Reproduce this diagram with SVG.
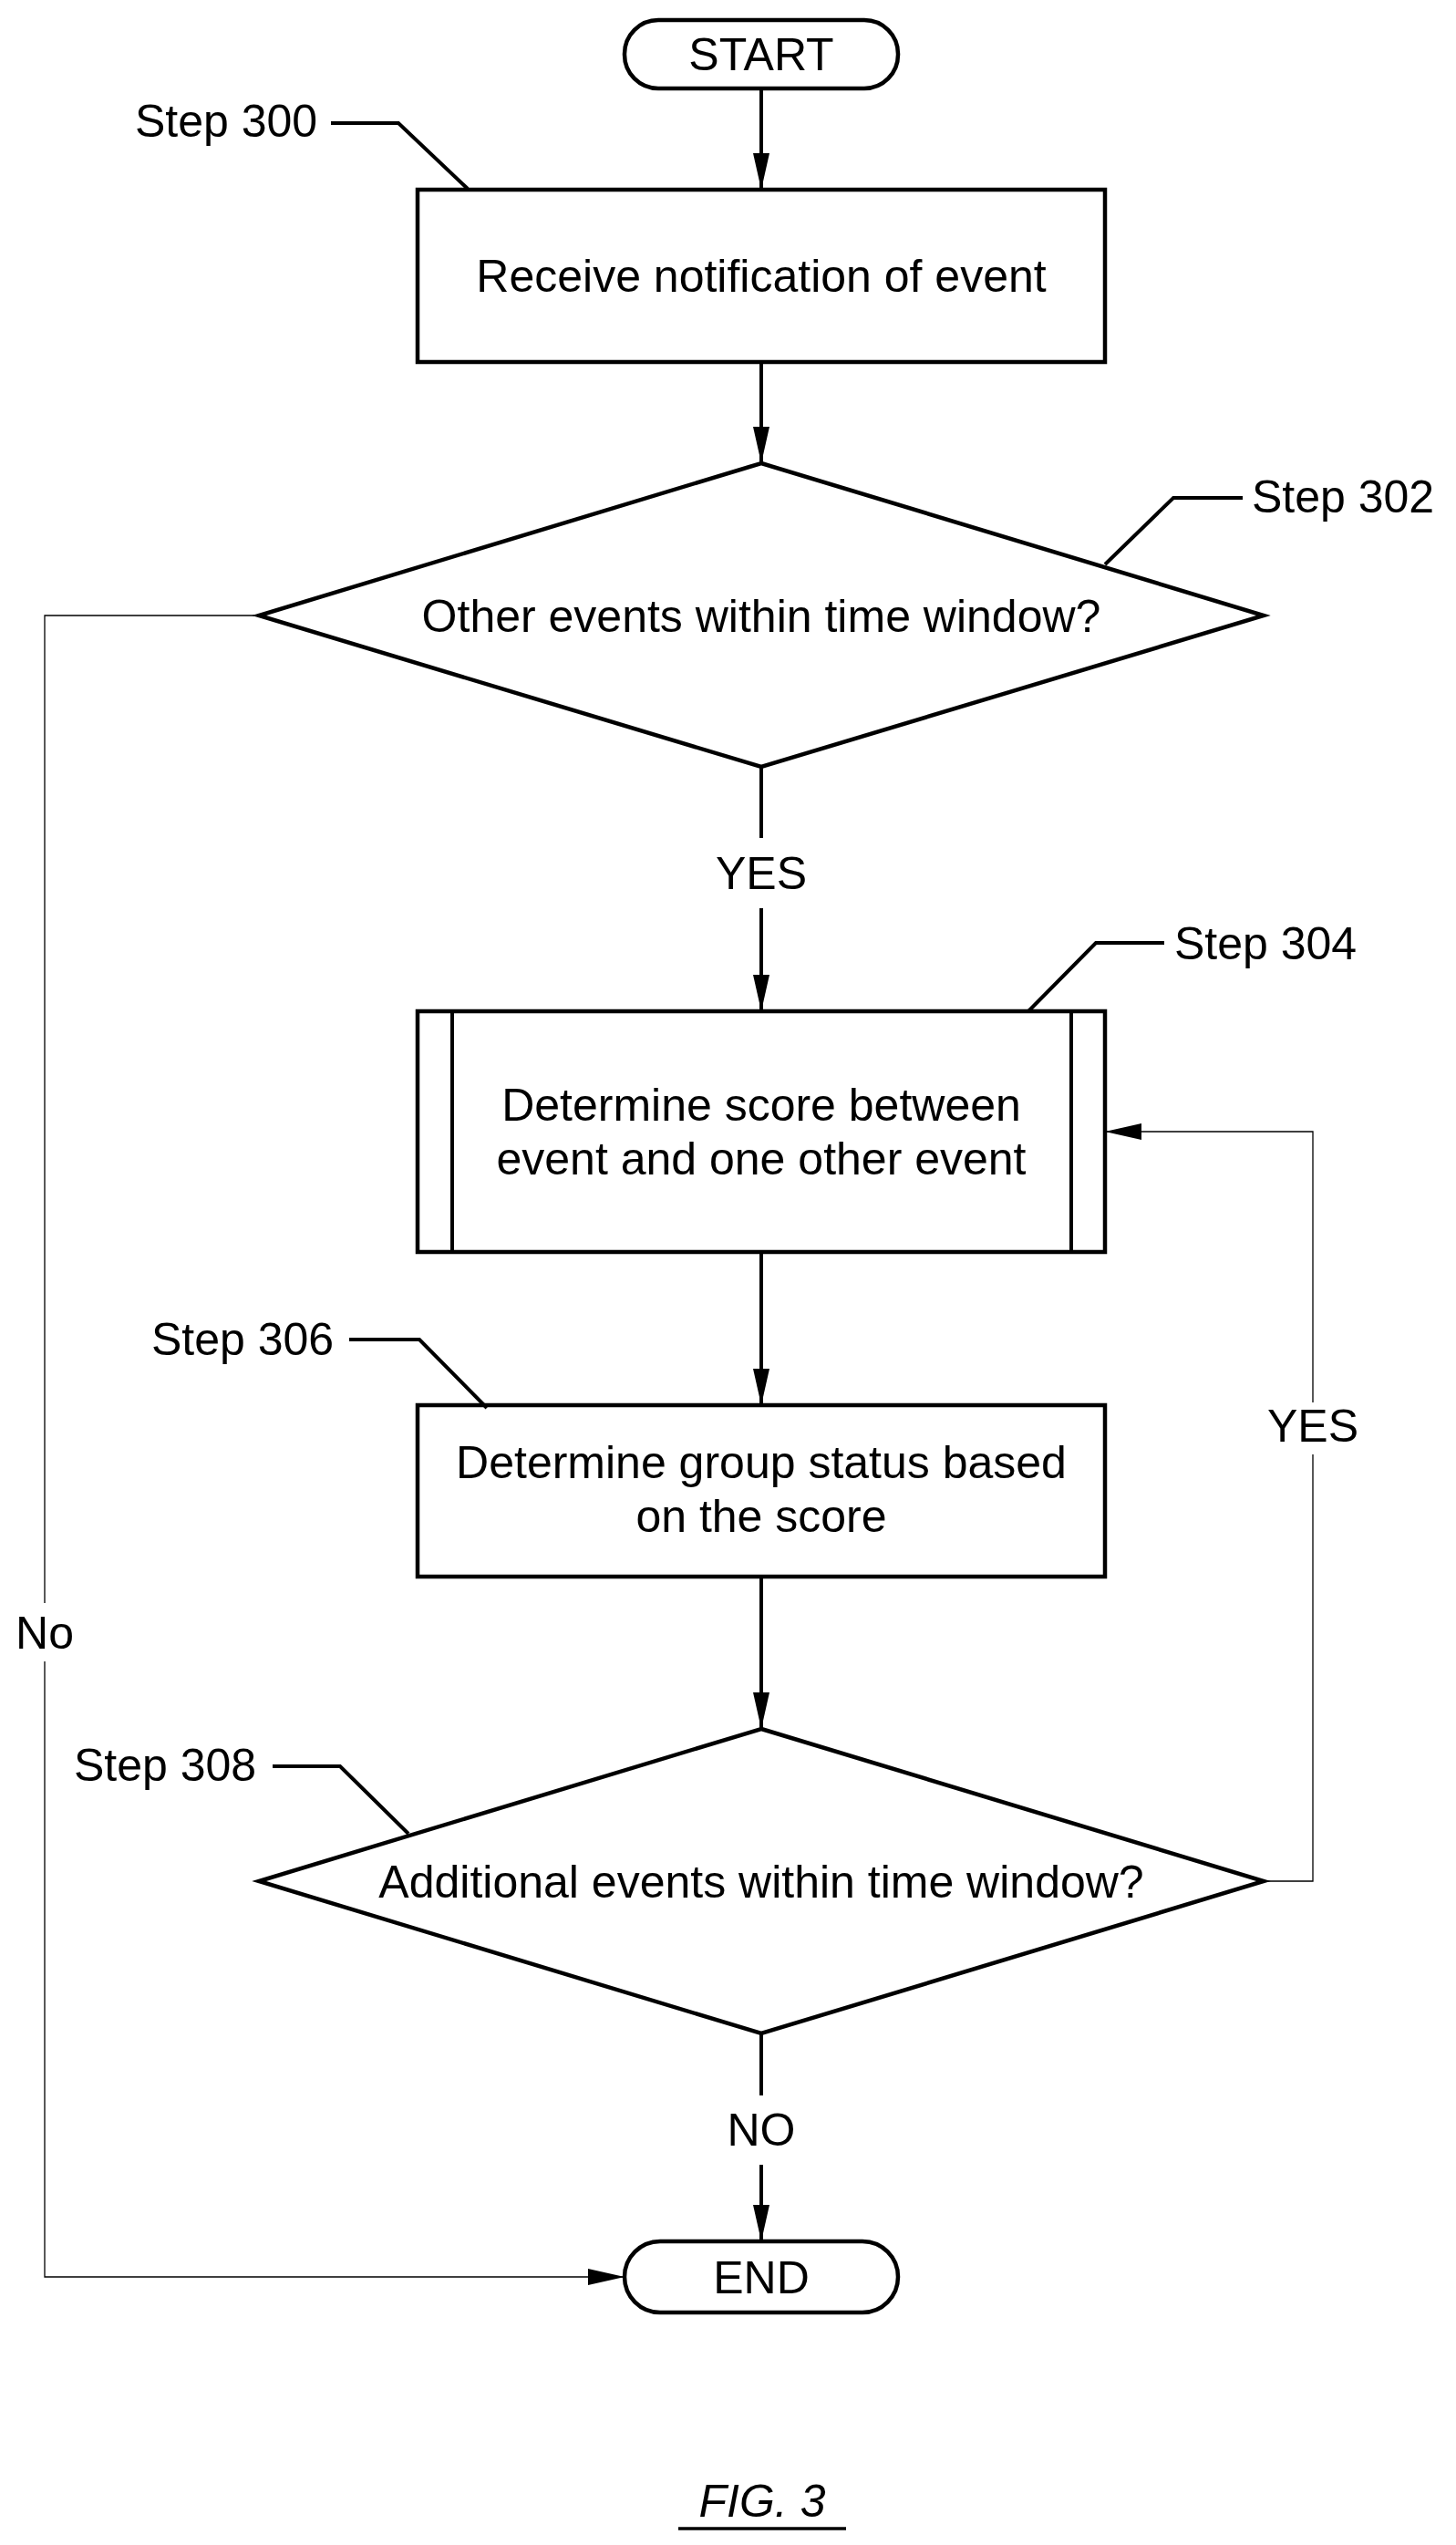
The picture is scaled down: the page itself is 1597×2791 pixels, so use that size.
<svg xmlns="http://www.w3.org/2000/svg" width="1597" height="2791" viewBox="0 0 1597 2791">
<style>
.n{fill:#fff;stroke:#000;stroke-width:4.5}
.t{font-family:"Liberation Sans",Arial,sans-serif;font-size:50px;fill:#000;text-anchor:middle}
.l{font-family:"Liberation Sans",Arial,sans-serif;font-size:50px;fill:#000}
.c{fill:none;stroke:#000;stroke-width:4}
.th{fill:none;stroke:#000;stroke-width:1.3}
</style>
<defs>
<marker id="a" markerWidth="40" markerHeight="18" refX="40" refY="9" orient="auto" markerUnits="userSpaceOnUse"><path d="M0,0L40,9L0,18Z" fill="#000"/></marker>
</defs>
<rect width="1597" height="2791" fill="#fff"/>
<g transform="translate(-6,0)">
<g id="connectors">
<path class="c" d="M841,97V208" marker-end="url(#a)"/>
<path class="c" d="M841,397V508" marker-end="url(#a)"/>
<path class="c" d="M841,841V919"/>
<path class="c" d="M841,996V1109" marker-end="url(#a)"/>
<path class="c" d="M841,1373V1541" marker-end="url(#a)"/>
<path class="c" d="M841,1729V1896" marker-end="url(#a)"/>
<path class="c" d="M841,2230V2298"/>
<path class="c" d="M841,2374V2458" marker-end="url(#a)"/>
<path class="th" d="M285,675H55V1758"/>
<path class="th" d="M55,1822V2497H691" marker-end="url(#a)"/>
<path class="th" d="M1392,2063H1446V1595"/>
<path class="th" d="M1446,1538V1241H1218" marker-end="url(#a)"/>
<text class="t" x="841" y="975">YES</text>
<text class="t" x="841" y="2353">NO</text>
<text class="t" x="55" y="1808">No</text>
<text class="t" x="1446" y="1581">YES</text>
</g>
<g id="start"><rect class="n" x="691" y="22" width="300" height="75" rx="37"/><text class="t" x="841" y="77">START</text></g>
<g id="step300"><rect class="n" x="464" y="208" width="754" height="189"/><text class="t" x="841" y="320">Receive notification of event</text>
<path class="c" d="M369,135H443L519,207"/><text class="l" x="154" y="150">Step 300</text></g>
<g id="step302"><path class="n" d="M841,508L1392,675L841,841L290,675Z"/><text class="t" x="841" y="693">Other events within time window?</text>
<path class="c" d="M1369,546H1293L1218,619"/><text class="l" x="1379" y="562">Step 302</text></g>
<g id="step304"><rect class="n" x="464" y="1109" width="754" height="264"/><path class="c" d="M502,1109V1373M1181,1109V1373"/>
<text class="t" x="841" y="1229">Determine score between</text><text class="t" x="841" y="1288">event and one other event</text>
<path class="c" d="M1283,1034H1208L1134,1109"/><text class="l" x="1294" y="1052">Step 304</text></g>
<g id="step306"><rect class="n" x="464" y="1541" width="754" height="188"/>
<text class="t" x="841" y="1621">Determine group status based</text><text class="t" x="841" y="1680">on the score</text>
<path class="c" d="M389,1469H466L540,1544"/><text class="l" x="172" y="1486">Step 306</text></g>
<g id="step308"><path class="n" d="M841,1896L1392,2063L841,2230L290,2063Z"/><text class="t" x="841" y="2081">Additional events within time window?</text>
<path class="c" d="M305,1937H379L454,2011"/><text class="l" x="87" y="1953">Step 308</text></g>
<g id="end"><rect class="n" x="691" y="2458" width="300" height="78" rx="39"/><text class="t" x="841" y="2515">END</text></g>
<text class="t" x="842" y="2760" font-size="66" font-style="italic">FIG. 3</text>
<path d="M750,2773H934" stroke="#000" stroke-width="3.5"/>
</g>
</svg>
